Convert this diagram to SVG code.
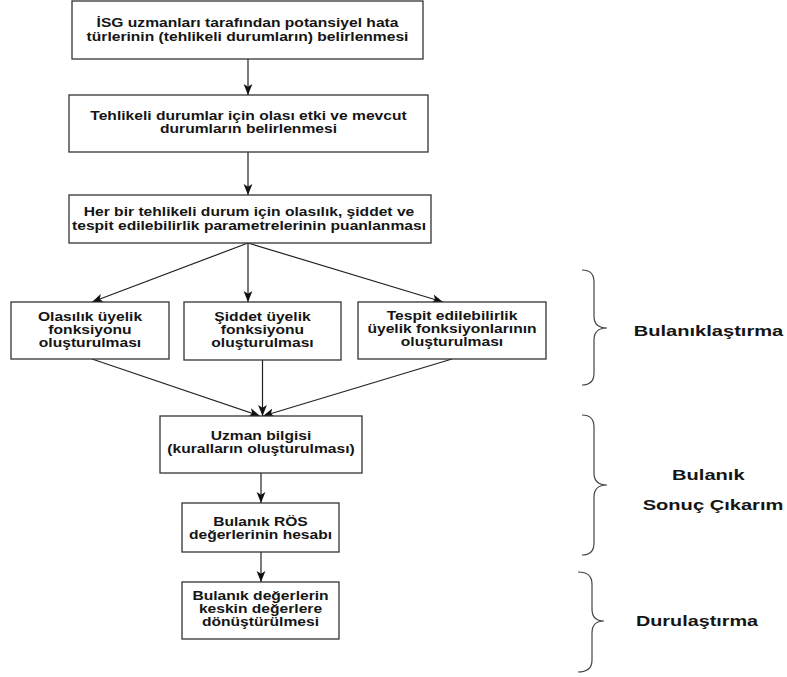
<svg xmlns="http://www.w3.org/2000/svg" width="787" height="677" viewBox="0 0 787 677">
<defs>
<style>
.box{fill:#fff;stroke:#333;stroke-width:1.3}
.t{font-family:"Liberation Sans",Arial,sans-serif;font-weight:bold;font-size:12.4px;fill:#151515;text-anchor:middle}
.lbl{font-family:"Liberation Sans",Arial,sans-serif;font-weight:bold;font-size:15px;fill:#151515;text-anchor:middle}
.edge{fill:none;stroke:#222;stroke-width:1.2;marker-end:url(#arr)}
.brace{fill:none;stroke:#444;stroke-width:1.2}
</style>
<marker id="arr" viewBox="0 0 10 10" refX="10" refY="5" markerWidth="11" markerHeight="11" markerUnits="userSpaceOnUse" orient="auto">
<path d="M0,1 L10,5 L0,9 L2.5,5 z" fill="#111"/>
</marker>
</defs>
<rect width="787" height="677" fill="#fff"/>
<g id="connectors">
<path class="edge" d="M248,59 L248,95"/>
<path class="edge" d="M248,152 L248,195"/>
<path class="edge" d="M248,243 L92,302"/>
<path class="edge" d="M248,243 L248,302"/>
<path class="edge" d="M248,243 L443,302"/>
<path class="edge" d="M92,359 L260,416"/>
<path class="edge" d="M262.5,360 L262.5,416"/>
<path class="edge" d="M452,359 L263,416"/>
<path class="edge" d="M261,473 L261,503"/>
<path class="edge" d="M261,552 L261,582"/>
</g>
<g id="n1">
<rect class="box" x="72" y="1" width="351" height="58"/>
<text class="t" transform="translate(247.5 0) scale(1.26 1)"><tspan x="0" y="27.5">İSG uzmanları tarafından potansiyel hata</tspan><tspan x="0" y="40.8">türlerinin (tehlikeli durumların) belirlenmesi</tspan></text>
</g>
<g id="n2">
<rect class="box" x="69" y="95" width="359" height="57"/>
<text class="t" transform="translate(248.5 0) scale(1.26 1)"><tspan x="0" y="120.5">Tehlikeli durumlar için olası etki ve mevcut</tspan><tspan x="0" y="133.5">durumların belirlenmesi</tspan></text>
</g>
<g id="n3">
<rect class="box" x="69" y="195" width="362" height="48"/>
<text class="t" transform="translate(249 0) scale(1.26 1)"><tspan x="0" y="216.3">Her bir tehlikeli durum için olasılık, şiddet ve</tspan><tspan x="0" y="229.6">tespit edilebilirlik parametrelerinin puanlanması</tspan></text>
</g>
<g id="n4">
<rect class="box" x="11" y="302" width="158" height="57"/>
<text class="t" transform="translate(90 0) scale(1.26 1)"><tspan x="0" y="321">Olasılık üyelik</tspan><tspan x="0" y="334">fonksiyonu</tspan><tspan x="0" y="347">oluşturulması</tspan></text>
</g>
<g id="n5">
<rect class="box" x="184" y="302" width="157" height="58"/>
<text class="t" transform="translate(262.5 0) scale(1.26 1)"><tspan x="0" y="321">Şiddet üyelik</tspan><tspan x="0" y="334">fonksiyonu</tspan><tspan x="0" y="347">oluşturulması</tspan></text>
</g>
<g id="n6">
<rect class="box" x="358" y="302" width="188" height="57"/>
<text class="t" transform="translate(452 0) scale(1.26 1)"><tspan x="0" y="320.5">Tespit edilebilirlik</tspan><tspan x="0" y="333.5">üyelik fonksiyonlarının</tspan><tspan x="0" y="346.5">oluşturulması</tspan></text>
</g>
<g id="n7">
<rect class="box" x="160" y="416" width="202" height="57"/>
<text class="t" transform="translate(261 0) scale(1.26 1)"><tspan x="0" y="440">Uzman bilgisi</tspan><tspan x="0" y="453.3">(kuralların oluşturulması)</tspan></text>
</g>
<g id="n8">
<rect class="box" x="182" y="503" width="157" height="49"/>
<text class="t" transform="translate(260.5 0) scale(1.26 1)"><tspan x="0" y="525.8">Bulanık RÖS</tspan><tspan x="0" y="539">değerlerinin hesabı</tspan></text>
</g>
<g id="n9">
<rect class="box" x="182" y="582" width="157" height="57"/>
<text class="t" transform="translate(260.5 0) scale(1.26 1)"><tspan x="0" y="600">Bulanık değerlerin</tspan><tspan x="0" y="613">keskin değerlere</tspan><tspan x="0" y="626">dönüştürülmesi</tspan></text>
</g>
<g id="b1">
<path class="brace" d="M582,270 Q594,270 594,282 L594,316 Q594,328 607,328 Q594,328 594,340 L594,373 Q594,385 582,385"/>
<text class="lbl" transform="translate(708.5 0) scale(1.34 1)"><tspan x="0" y="336.5">Bulanıklaştırma</tspan></text>
</g>
<g id="b2">
<path class="brace" d="M582,415 Q594,415 594,427 L594,473 Q594,485 607,485 Q594,485 594,497 L594,543 Q594,555 582,555"/>
<text class="lbl" transform="translate(711 0) scale(1.34 1)"><tspan x="-2" y="480">Bulanık</tspan><tspan x="1.5" y="510">Sonuç Çıkarım</tspan></text>
</g>
<g id="b3">
<path class="brace" d="M578,572 Q592,572 592,584 L592,609 Q592,621 604,621 Q592,621 592,633 L592,660 Q592,672 578,672"/>
<text class="lbl" transform="translate(697 0) scale(1.32 1)"><tspan x="0" y="626">Durulaştırma</tspan></text>
</g>
</svg>
